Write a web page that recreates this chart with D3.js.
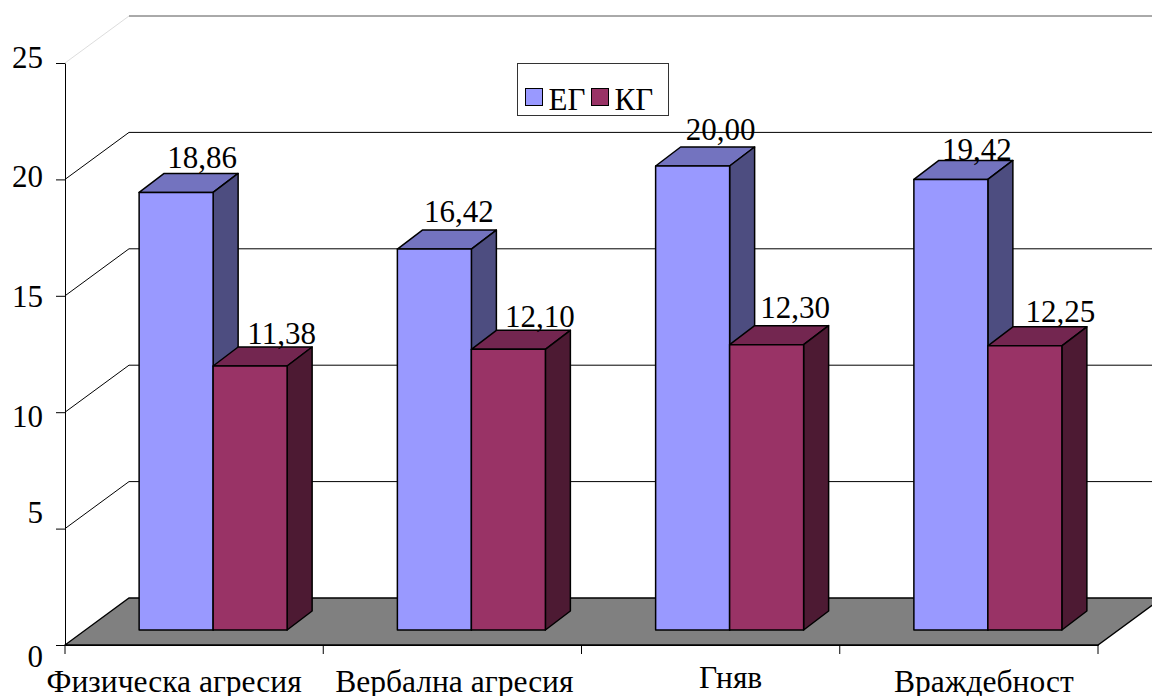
<!DOCTYPE html>
<html>
<head>
<meta charset="utf-8">
<script src="https://cdn.jsdelivr.net/npm/d3@7"></script>
<style>
  body { margin: 0; background: #fff; overflow: hidden; }
  text { font-family: "Liberation Serif", serif; fill: #000; }
</style>
</head>
<body>
<svg width="1152" height="696"></svg>
<script>
var categories = ["Физическа агресия", "Вербална агресия", "Гняв", "Враждебност"];
var seriesNames = ["ЕГ", "КГ"];
var eg = [18.86, 16.42, 20.0, 19.42];
var kg = [11.38, 12.1, 12.3, 12.25];
var yTicks = [0, 5, 10, 15, 20, 25];

var colors = {
  "ЕГ": { front: "#9999ff", top: "#7373bf", side: "#4d4d80" },
  "КГ": { front: "#993366", top: "#732650", side: "#4d1a33" }
};

// hand placed label offsets, the source chart doesn't line them up
var yLabelShift = { 0: 11, 5: -16, 10: 4, 15: 0.6, 20: -3, 25: -6 };
var xLabelShift = [[-20, 46.5], [2, 46.5], [20, 43], [15, 47]];
var valueLabelShift = {
  "ЕГ": [[0.5, 0], [-1, -3], [2.5, -2], [0.5, 5]],
  "КГ": [[0.5, 2], [0.5, 2], [-2.5, -3], [4.5, 0]]
};

var svg = d3.select("svg");
var plot = { left: 65, right: 1098, bottom: 645, top: 63 };
var wall = { dx: 64, dy: -47 };  // back wall offset
var barShift = { dx: 19, dy: -15 };
var depth = { dx: 25, dy: -19 };

var x0 = d3.scaleBand().domain(categories).range([plot.left, plot.right]);
var x1 = d3.scaleBand().domain(seriesNames).range([0, x0.bandwidth()]).paddingOuter(0.745).paddingInner(0);
var y = d3.scaleLinear().domain([0, 25]).range([plot.bottom, plot.top]);
// the bars run a touch shorter than the axis
var yBar = d3.scaleLinear().domain([0, 25]).range([plot.bottom, plot.top + 2]);

var rows = seriesNames.map((name, s) => ({
  name: name,
  values: (s === 0 ? eg : kg).map((v, i) => ({ cat: categories[i], value: v, index: i }))
}));

// back wall grid
var grid = svg.append("g");
grid.selectAll("line.back")
  .data(yTicks.filter((d) => d > 0))
  .enter()
  .append("line")
  .attr("class", "back")
  .attr("x1", plot.left + wall.dx)
  .attr("x2", 1152)
  .attr("y1", (d) => y(d) + wall.dy)
  .attr("y2", (d) => y(d) + wall.dy)
  .attr("stroke", (d) => (d === 25 ? "#555" : "#000"));
grid.selectAll("line.diag")
  .data(yTicks.filter((d) => d > 0))
  .enter()
  .append("line")
  .attr("class", "diag")
  .attr("x1", plot.left)
  .attr("x2", plot.left + wall.dx)
  .attr("y1", (d) => y(d))
  .attr("y2", (d) => y(d) + wall.dy)
  .attr("stroke", (d) => (d === 25 ? "#ddd" : "#000"));

// floor
svg.append("path")
  .attr("d", d3.line()([
    [plot.left, y(0)],
    [plot.left + wall.dx, y(0) + wall.dy],
    [plot.right + wall.dx, y(0) + wall.dy],
    [plot.right, y(0)]
  ]) + "Z")
  .attr("fill", "#808080")
  .attr("stroke", "#000")
  .attr("stroke-width", 1.3);

// bars
var groups = svg.selectAll("g.series")
  .data(rows)
  .enter()
  .append("g")
  .attr("class", "series")
  .attr("transform", `translate(${barShift.dx}, ${barShift.dy})`);

var bars = groups.selectAll("g.bar")
  .data((r) => r.values.map((v) => Object.assign({ name: r.name }, v)))
  .enter()
  .append("g")
  .attr("class", "bar");

var barLine = d3.line();
var bx = (d) => x0(d.cat) + x1(d.name);
var bw = x1.bandwidth();

bars.append("path")
  .attr("d", (d) => barLine([
    [bx(d), yBar(d.value)],
    [bx(d) + depth.dx, yBar(d.value) + depth.dy],
    [bx(d) + bw + depth.dx, yBar(d.value) + depth.dy],
    [bx(d) + bw, yBar(d.value)]
  ]) + "Z")
  .attr("fill", (d) => colors[d.name].top);
bars.append("path")
  .attr("d", (d) => barLine([
    [bx(d) + bw, yBar(d.value)],
    [bx(d) + bw + depth.dx, yBar(d.value) + depth.dy],
    [bx(d) + bw + depth.dx, yBar(0) + depth.dy],
    [bx(d) + bw, yBar(0)]
  ]) + "Z")
  .attr("fill", (d) => colors[d.name].side);
bars.append("rect")
  .attr("x", bx)
  .attr("y", (d) => yBar(d.value))
  .attr("width", bw)
  .attr("height", (d) => yBar(0) - yBar(d.value))
  .attr("fill", (d) => colors[d.name].front);
bars.selectAll("path, rect")
  .attr("stroke", "#000")
  .attr("stroke-width", 1.5)
  .attr("stroke-linejoin", "round");

// value labels
svg.append("g")
  .selectAll("text")
  .data(rows.flatMap((r) => r.values.map((v) => Object.assign({ name: r.name }, v))))
  .enter()
  .append("text")
  .attr("x", (d) => bx(d) + bw / 2 + barShift.dx + (d.name === "ЕГ" ? 25.5 : 31) + valueLabelShift[d.name][d.index][0])
  .attr("y", (d) => yBar(d.value) + barShift.dy + depth.dy - 5 + valueLabelShift[d.name][d.index][1])
  .attr("text-anchor", "middle")
  .attr("font-size", 31)
  .text((d) => d3.format(".2f")(d.value).replace(".", ","));

// axes
var yAxis = svg.append("g")
  .attr("transform", `translate(${plot.left}, 0)`)
  .call(d3.axisLeft(y).tickValues(yTicks).tickSize(9).tickPadding(13).tickSizeOuter(0));
yAxis.selectAll("text")
  .attr("font-size", 31)
  .attr("dy", (d) => 10 + yLabelShift[d]);

var xAxis = svg.append("g")
  .attr("transform", `translate(0, ${plot.bottom})`)
  .call(d3.axisBottom(x0).tickSize(0).tickPadding(0).tickSizeOuter(0));
xAxis.selectAll(".tick text")
  .attr("font-size", 31.5)
  .attr("dy", 0)
  .attr("transform", (d, i) => `translate(${xLabelShift[i][0]}, ${xLabelShift[i][1]})`);

// ticks sit on the category edges
xAxis.selectAll("line.edge")
  .data(d3.range(categories.length + 1))
  .enter()
  .append("line")
  .attr("class", "edge")
  .attr("x1", (i) => plot.left + i * x0.step())
  .attr("x2", (i) => plot.left + i * x0.step())
  .attr("y1", 0)
  .attr("y2", 9)
  .attr("stroke", "#000");

svg.selectAll(".domain").attr("stroke", "#000");
svg.selectAll("g.tick text").style("font-family", '"Liberation Serif", serif').attr("fill", "#000");

// legend
var legend = svg.append("g").attr("transform", "translate(517.5, 63.5)");
legend.append("rect")
  .attr("width", 151)
  .attr("height", 52)
  .attr("fill", "#fff")
  .attr("stroke", "#333");
var items = legend.selectAll("g.item")
  .data(seriesNames)
  .enter()
  .append("g")
  .attr("class", "item")
  .attr("transform", (d, i) => `translate(${8 + i * 66}, 25)`);
items.append("rect")
  .attr("width", 17)
  .attr("height", 17)
  .attr("fill", (d) => colors[d].front)
  .attr("stroke", "#000");
items.append("text")
  .attr("x", 23)
  .attr("y", 21)
  .attr("font-size", 31)
  .text((d) => d);
</script>
</body>
</html>
